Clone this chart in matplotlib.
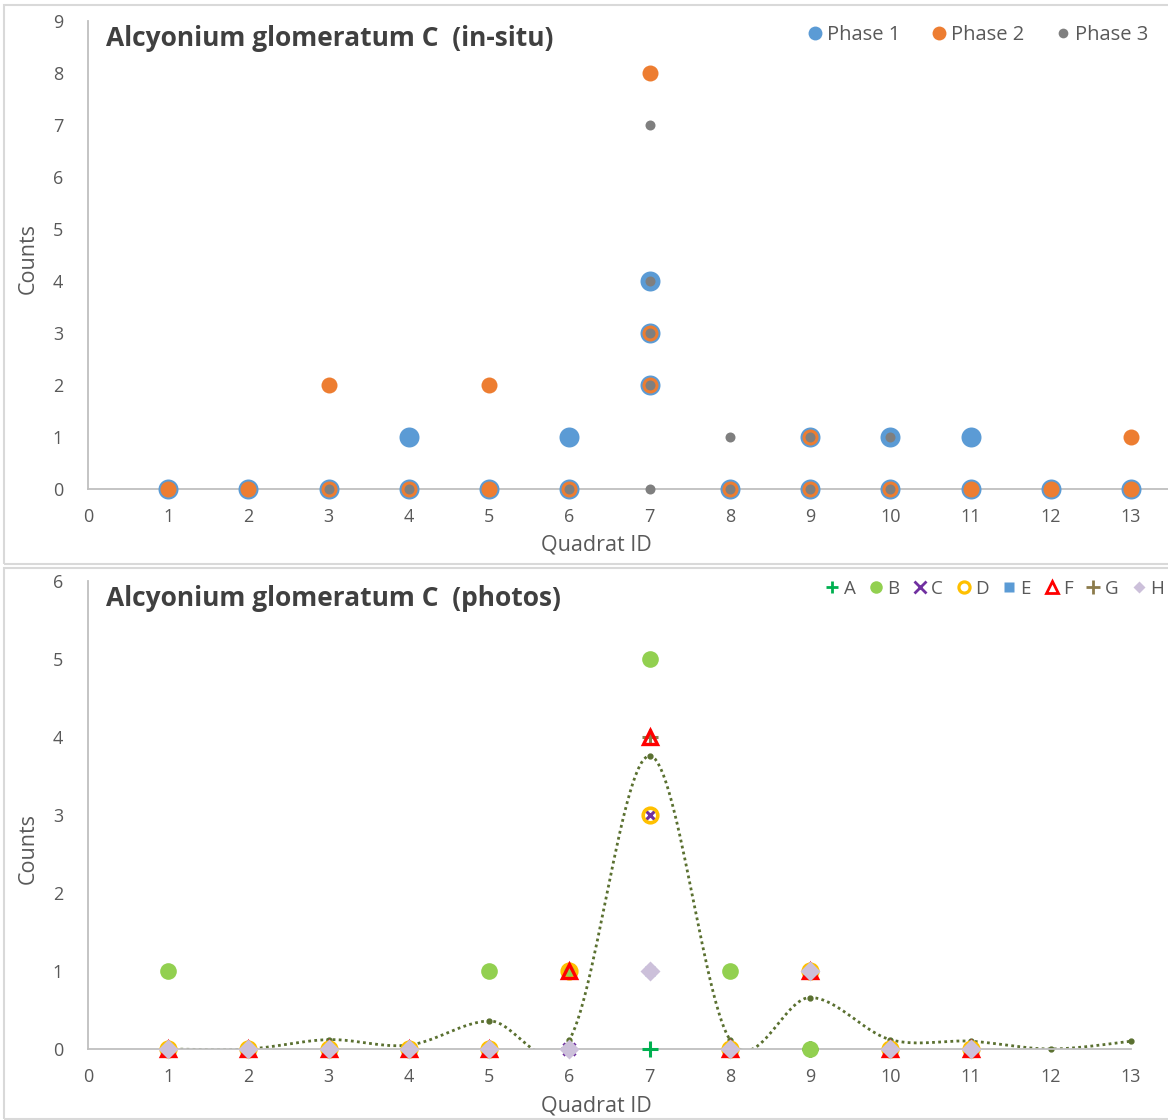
import numpy as np
import matplotlib
matplotlib.use('Agg')
import matplotlib.pyplot as plt
from matplotlib.lines import Line2D
from matplotlib.patches import Rectangle

plt.rcParams['font.family'] = ['Open Sans', 'DejaVu Sans']

# in-situ counts, one point per (quadrat, count) observation
p1_x = [1, 2, 3, 4, 4, 5, 6, 6, 7, 7, 7, 8, 9, 9, 10, 10, 11, 11, 12, 13]
p1_y = [0, 0, 0, 0, 1, 0, 0, 1, 4, 3, 2, 0, 0, 1, 0, 1, 0, 1, 0, 0]
p2_x = [1, 2, 3, 3, 4, 5, 5, 6, 7, 7, 7, 8, 9, 9, 10, 11, 12, 13, 13]
p2_y = [0, 0, 0, 2, 0, 0, 2, 0, 8, 3, 2, 0, 0, 1, 0, 0, 0, 0, 1]
p3_x = [3, 4, 6, 7, 7, 7, 7, 7, 8, 8, 9, 9, 10, 10]
p3_y = [0, 0, 0, 7, 4, 3, 2, 0, 1, 0, 1, 0, 1, 0]

# photo counts per observer, quadrats 1..11
quadrats = list(range(1, 12))
obs_A = [0, 0, 0, 0, 0, 0, 0, 0, 0, 0, 0]
obs_B = [1, 0, 0, 0, 1, 1, 5, 1, 0, 0, 0]
obs_C = [0, 0, 0, 0, 0, 0, 3, 0, 1, 0, 0]
obs_D = [0, 0, 0, 0, 0, 1, 3, 0, 1, 0, 0]
obs_E = [0, 0, 0, 0, 0, 0, 1, 0, 0, 0, 0]
obs_F = [0, 0, 0, 0, 0, 1, 4, 0, 1, 0, 0]
obs_G = [0, 0, 0, 0, 0, 0, 4, 0, 0, 0, 0]
obs_H = [0, 0, 0, 0, 0, 0, 1, 0, 1, 0, 0]

# smoothed line
curve_x = list(range(1, 14))
curve_y = [0, 0, 0.12, 0.05, 0.36, 0.12, 3.76, 0.12, 0.66, 0.12, 0.1, 0, 0.1]

W, H = 1168, 1120
fig = plt.figure(figsize=(W / 100, H / 100), dpi=100)

grey_txt = '#595959'
axis_col = '#bfbfbf'


def px_axes(x0, y_top, width, y_bot):
    return fig.add_axes([x0 / W, 1 - y_bot / H, width / W, (y_bot - y_top) / H])


def style(ax):
    for s in ['top', 'right']:
        ax.spines[s].set_visible(False)
    for s in ['left', 'bottom']:
        ax.spines[s].set_color(axis_col)
        ax.spines[s].set_linewidth(1.3)
    ax.tick_params(length=0, labelsize=13, labelcolor=grey_txt)
    ax.tick_params(axis='x', pad=14)
    ax.tick_params(axis='y', pad=18)
    ax.patch.set_alpha(0)


def smooth(x, y, n=30):
    x = np.asarray(x, float)
    y = np.asarray(y, float)
    px = np.concatenate([[x[0]], x, [x[-1]]])
    py = np.concatenate([[y[0]], y, [y[-1]]])
    xs, ys = [], []
    for i in range(1, len(px) - 2):
        t = np.linspace(0, 1, n)
        b0 = np.array([px[i], py[i]])
        b3 = np.array([px[i + 1], py[i + 1]])
        b1 = b0 + (np.array([px[i + 1], py[i + 1]]) - np.array([px[i - 1], py[i - 1]])) / 6
        b2 = b3 - (np.array([px[i + 2], py[i + 2]]) - np.array([px[i], py[i]])) / 6
        pts = ((1 - t) ** 3)[:, None] * b0 + (3 * (1 - t) ** 2 * t)[:, None] * b1 \
            + (3 * (1 - t) * t ** 2)[:, None] * b2 + (t ** 3)[:, None] * b3
        xs.extend(pts[:, 0])
        ys.extend(pts[:, 1])
    return np.array(xs), np.array(ys)


# chart frames
for (y0, y1) in [(5, 564), (568, 1119)]:
    fig.patches.append(Rectangle((4 / W, 1 - y1 / H), (W + 10) / W, (y1 - y0) / H,
                                 transform=fig.transFigure, fill=False,
                                 edgecolor='#d9d9d9', linewidth=1.5))

# ---------- top chart ----------
step = (1131 - 88) / 13
ax1 = px_axes(88, 21, 14 * step, 489)
style(ax1)
ax1.scatter(p1_x, p1_y, s=(20 * 0.72) ** 2, color='#5b9bd5', zorder=3,
            linewidths=0, clip_on=False)
ax1.scatter(p2_x, p2_y, s=(16 * 0.72) ** 2, color='#ed7d31', zorder=4,
            linewidths=0, clip_on=False)
ax1.scatter(p3_x, p3_y, s=(10 * 0.72) ** 2, color='#7f7f7f', zorder=5,
            linewidths=0, clip_on=False)
ax1.set_xlim(0, 14)
ax1.set_ylim(0, 9)
ax1.set_xticks(range(0, 14))
ax1.set_yticks(range(0, 10))

fig.text(106 / W, 1 - 39 / H, 'Alcyonium glomeratum C  (in-situ)', fontsize=19,
         fontweight='bold', color='#404040', va='center', ha='left')
fig.text(596 / W, 1 - 545 / H, 'Quadrat ID', fontsize=15.5, color=grey_txt,
         ha='center', va='center')
fig.text(28 / W, 1 - 258 / H, 'Counts', fontsize=15.5, color=grey_txt,
         ha='center', va='center', rotation=90)

h1 = [Line2D([], [], ls='none', marker='o', ms=10, color='#5b9bd5', mec='none'),
      Line2D([], [], ls='none', marker='o', ms=10, color='#ed7d31', mec='none'),
      Line2D([], [], ls='none', marker='o', ms=7, color='#7f7f7f', mec='none')]
fig.legend(h1, ['Phase 1', 'Phase 2', 'Phase 3'], loc='center right',
           bbox_to_anchor=(1148 / W, 1 - 35 / H), ncol=3, frameon=False,
           fontsize=14.5, labelcolor=grey_txt, handletextpad=0.1,
           columnspacing=1.4, handlelength=1.0, borderaxespad=0, borderpad=0)

# ---------- bottom chart ----------
ax2 = px_axes(88, 581, 13 * step, 1049)
style(ax2)
cx, cy = smooth(curve_x, curve_y)
ax2.plot(cx, cy, ls=(0, (1, 1.2)), lw=2, color='#5a7030', zorder=2)
ax2.plot(curve_x, curve_y, ls='none', marker='o', ms=3.5, color='#5a7030',
         zorder=2, clip_on=False)

mk = dict(ls='none', clip_on=False)
ax2.plot(quadrats, obs_A, marker='+', ms=11, mew=2.2, color='#00b050', zorder=3.0, **mk)
ax2.plot(quadrats, obs_G, marker='+', ms=12, mew=2.2, color='#8c7b4b', zorder=3.1, **mk)
ax2.plot(quadrats, obs_E, marker='s', ms=7, color='#5b9bd5', mec='none', zorder=3.15, **mk)
ax2.plot(quadrats, obs_B, marker='o', ms=12, color='#92d050', mec='none', zorder=3.2, **mk)
ax2.plot(quadrats, obs_C, marker='x', ms=9, mew=2.2, color='#7030a0', zorder=3.3, **mk)
ax2.plot(quadrats, obs_D, marker='o', ms=10.5, mfc='none', mew=2.6, mec='#ffc000',
         zorder=3.4, **mk)
ax2.plot(quadrats, obs_F, marker='^', ms=10, mfc='none', mew=2.4, mec='#ff0000',
         zorder=3.6, **mk)
ax2.plot(quadrats, obs_H, marker='D', ms=10.5, color='#ccc0da', mec='none', zorder=3.8, **mk)
ax2.set_xlim(0, 13)
ax2.set_ylim(0, 6)
ax2.set_xticks(range(0, 14))
ax2.set_yticks(range(0, 7))

fig.text(106 / W, 1 - 598 / H, 'Alcyonium glomeratum C  (photos)', fontsize=19,
         fontweight='bold', color='#404040', va='center', ha='left')
fig.text(596 / W, 1 - 1106 / H, 'Quadrat ID', fontsize=15.5, color=grey_txt,
         ha='center', va='center')
fig.text(28 / W, 1 - 848 / H, 'Counts', fontsize=15.5, color=grey_txt,
         ha='center', va='center', rotation=90)

h2 = [Line2D([], [], ls='none', marker='+', ms=9, mew=2, color='#00b050'),
      Line2D([], [], ls='none', marker='o', ms=9, color='#92d050', mec='none'),
      Line2D([], [], ls='none', marker='x', ms=8, mew=2, color='#7030a0'),
      Line2D([], [], ls='none', marker='o', ms=8, mfc='none', mew=2.3, mec='#ffc000'),
      Line2D([], [], ls='none', marker='s', ms=7, color='#5b9bd5', mec='none'),
      Line2D([], [], ls='none', marker='^', ms=9, mfc='none', mew=2, mec='#ff0000'),
      Line2D([], [], ls='none', marker='+', ms=10, mew=2, color='#8c7b4b'),
      Line2D([], [], ls='none', marker='D', ms=6, color='#ccc0da', mec='none')]
fig.legend(h2, list('ABCDEFGH'), loc='center right',
           bbox_to_anchor=(1164 / W, 1 - 589 / H), ncol=8, frameon=False,
           fontsize=13.5, labelcolor=grey_txt, handletextpad=0.1,
           columnspacing=0.6, handlelength=1.0, borderaxespad=0, borderpad=0)

fig.savefig('out.png', dpi=100)
